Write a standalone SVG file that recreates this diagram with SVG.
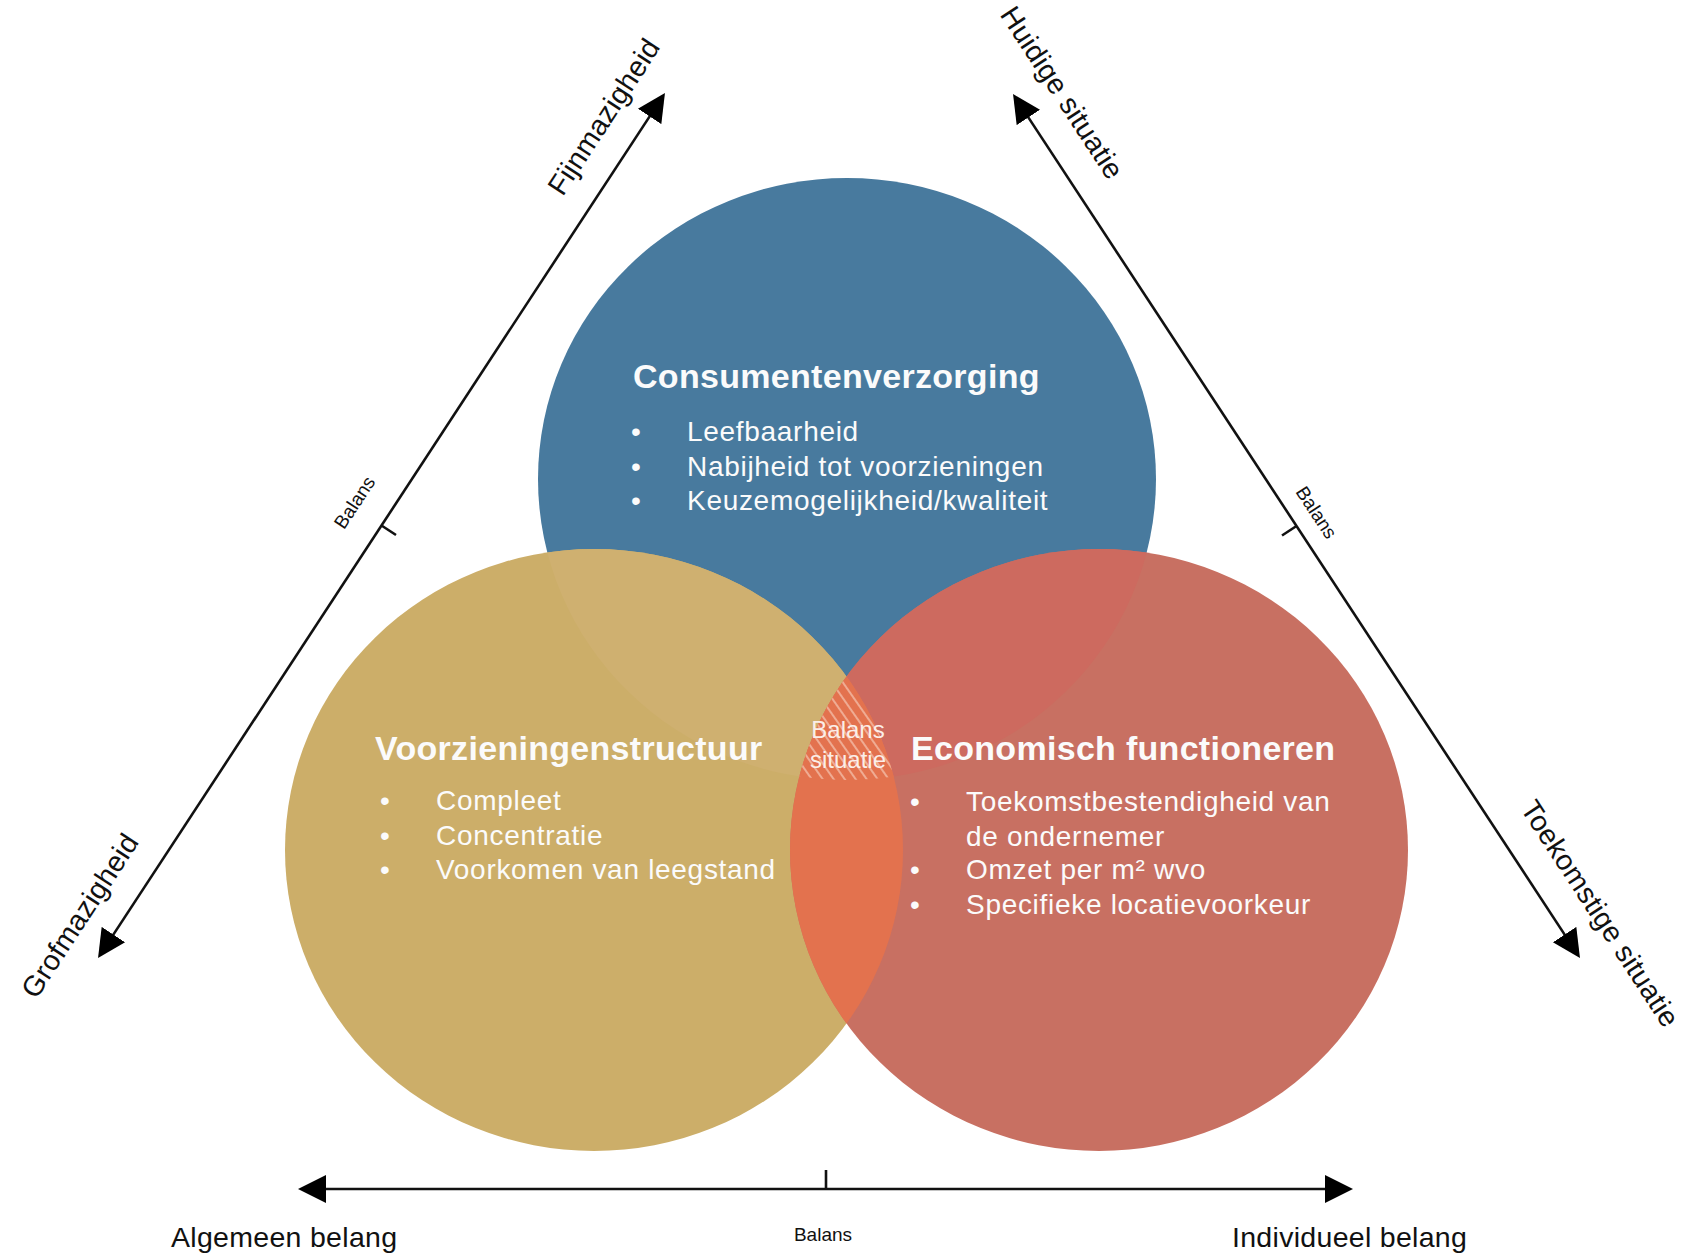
<svg xmlns="http://www.w3.org/2000/svg" width="1690" height="1256" viewBox="0 0 1690 1256">
<style>
  .axis { stroke: #111; stroke-width: 2.6; fill: none; }
  .tick { stroke: #111; stroke-width: 2.6; fill: none; }
  .lbl { font-family: "Liberation Sans", Arial, sans-serif; fill: #111; }
  .big { font-size: 28.5px; letter-spacing: 0.3px; }
  .small { font-size: 19px; }
  .title { font-family: "Liberation Sans", Arial, sans-serif; font-weight: bold; font-size: 34px; letter-spacing: 0.3px; fill: #fbfbfb; }
  .item { font-family: "Liberation Sans", Arial, sans-serif; font-size: 28px; letter-spacing: 0.7px; fill: #fbfbfb; }
  .bal { font-family: "Liberation Sans", Arial, sans-serif; font-size: 24px; fill: #fbeee8; text-anchor: middle; }
</style>
<defs>
  <marker id="arrow" markerUnits="userSpaceOnUse" markerWidth="30" markerHeight="30" viewBox="0 -15 30 30" refX="4" refY="0" orient="auto-start-reverse">
    <path d="M0,-14 L28,0 L0,14 Z" fill="#000"/>
  </marker>
  <clipPath id="cBlue"><ellipse cx="847" cy="479" rx="309" ry="301"/></clipPath>
  <clipPath id="cGold"><ellipse cx="594" cy="850" rx="309" ry="301"/></clipPath>
  <clipPath id="cRed"><ellipse cx="1099" cy="850" rx="309" ry="301"/></clipPath>
  <pattern id="hatch" patternUnits="userSpaceOnUse" width="9" height="9" patternTransform="rotate(-35)">
    <rect width="9" height="9" fill="#e3724e"/>
    <line x1="2" y1="0" x2="2" y2="9" stroke="#fbe6dc" stroke-width="1.3" stroke-opacity="0.75"/>
  </pattern>
</defs>

<rect width="1690" height="1256" fill="#ffffff"/>

<g id="connectors">
  <line class="axis" x1="111.2" y1="937.9" x2="651.8" y2="113.1" marker-start="url(#arrow)" marker-end="url(#arrow)"/>
  <line class="axis" x1="1026.2" y1="114.1" x2="1566.8" y2="937.9" marker-start="url(#arrow)" marker-end="url(#arrow)"/>
  <line class="axis" x1="322" y1="1189" x2="1329" y2="1189" marker-start="url(#arrow)" marker-end="url(#arrow)"/>
  <line class="tick" x1="381.5" y1="525.5" x2="396" y2="535"/>
  <line class="tick" x1="1296.5" y1="526" x2="1282" y2="535.5"/>
  <line class="tick" x1="826" y1="1170" x2="826" y2="1189"/>
</g>

<g id="axis-labels">
  <text class="lbl big" transform="translate(612,122) rotate(-56.8)" text-anchor="middle">Fijnmazigheid</text>
  <text class="lbl big" transform="translate(88,921) rotate(-56.8)" text-anchor="middle">Grofmazigheid</text>
  <text class="lbl big" transform="translate(1054,98) rotate(56.8)" text-anchor="middle">Huidige situatie</text>
  <text class="lbl big" transform="translate(1592,919) rotate(56.8)" text-anchor="middle">Toekomstige situatie</text>
  <text class="lbl small" transform="translate(360,506) rotate(-56.8)" text-anchor="middle">Balans</text>
  <text class="lbl small" transform="translate(1311,516) rotate(56.8)" text-anchor="middle">Balans</text>
  <text class="lbl small" x="823" y="1241" text-anchor="middle">Balans</text>
  <text class="lbl big" x="171" y="1247">Algemeen belang</text>
  <text class="lbl big" x="1232" y="1247">Individueel belang</text>
</g>

<g id="circles">
  <ellipse cx="847" cy="479" rx="309" ry="301" fill="#487a9e"/>
  <ellipse cx="594" cy="850" rx="309" ry="301" fill="#ccae69"/>
  <ellipse cx="1099" cy="850" rx="309" ry="301" fill="#c87062"/>
  <g clip-path="url(#cBlue)">
    <ellipse cx="594" cy="850" rx="309" ry="301" fill="#cfb070"/>
    <ellipse cx="1099" cy="850" rx="309" ry="301" fill="#cd6a5f"/>
  </g>
  <g clip-path="url(#cGold)">
    <ellipse cx="1099" cy="850" rx="309" ry="301" fill="#e3724e"/>
    <g clip-path="url(#cRed)">
      <ellipse cx="847" cy="479" rx="309" ry="301" fill="url(#hatch)"/>
    </g>
  </g>
</g>

<g id="consumentenverzorging">
  <text class="title" x="633" y="388">Consumentenverzorging</text>
  <text class="item" x="631" y="441">•</text>
  <text class="item" x="687" y="441">Leefbaarheid</text>
  <text class="item" x="631" y="476">•</text>
  <text class="item" x="687" y="476">Nabijheid tot voorzieningen</text>
  <text class="item" x="631" y="510">•</text>
  <text class="item" x="687" y="510">Keuzemogelijkheid/kwaliteit</text>
</g>

<g id="voorzieningenstructuur">
  <text class="title" x="375" y="760">Voorzieningenstructuur</text>
  <text class="item" x="380" y="810">•</text>
  <text class="item" x="436" y="810">Compleet</text>
  <text class="item" x="380" y="845">•</text>
  <text class="item" x="436" y="845">Concentratie</text>
  <text class="item" x="380" y="879">•</text>
  <text class="item" x="436" y="879">Voorkomen van leegstand</text>
</g>

<g id="economisch-functioneren">
  <text class="title" x="911" y="760">Economisch functioneren</text>
  <text class="item" x="910" y="811">•</text>
  <text class="item" x="966" y="811">Toekomstbestendigheid van</text>
  <text class="item" x="966" y="846">de ondernemer</text>
  <text class="item" x="910" y="879">•</text>
  <text class="item" x="966" y="879">Omzet per m² wvo</text>
  <text class="item" x="910" y="914">•</text>
  <text class="item" x="966" y="914">Specifieke locatievoorkeur</text>
</g>

<g id="balans-situatie">
  <text class="bal" x="848" y="738">Balans</text>
  <text class="bal" x="848" y="768">situatie</text>
</g>
</svg>
